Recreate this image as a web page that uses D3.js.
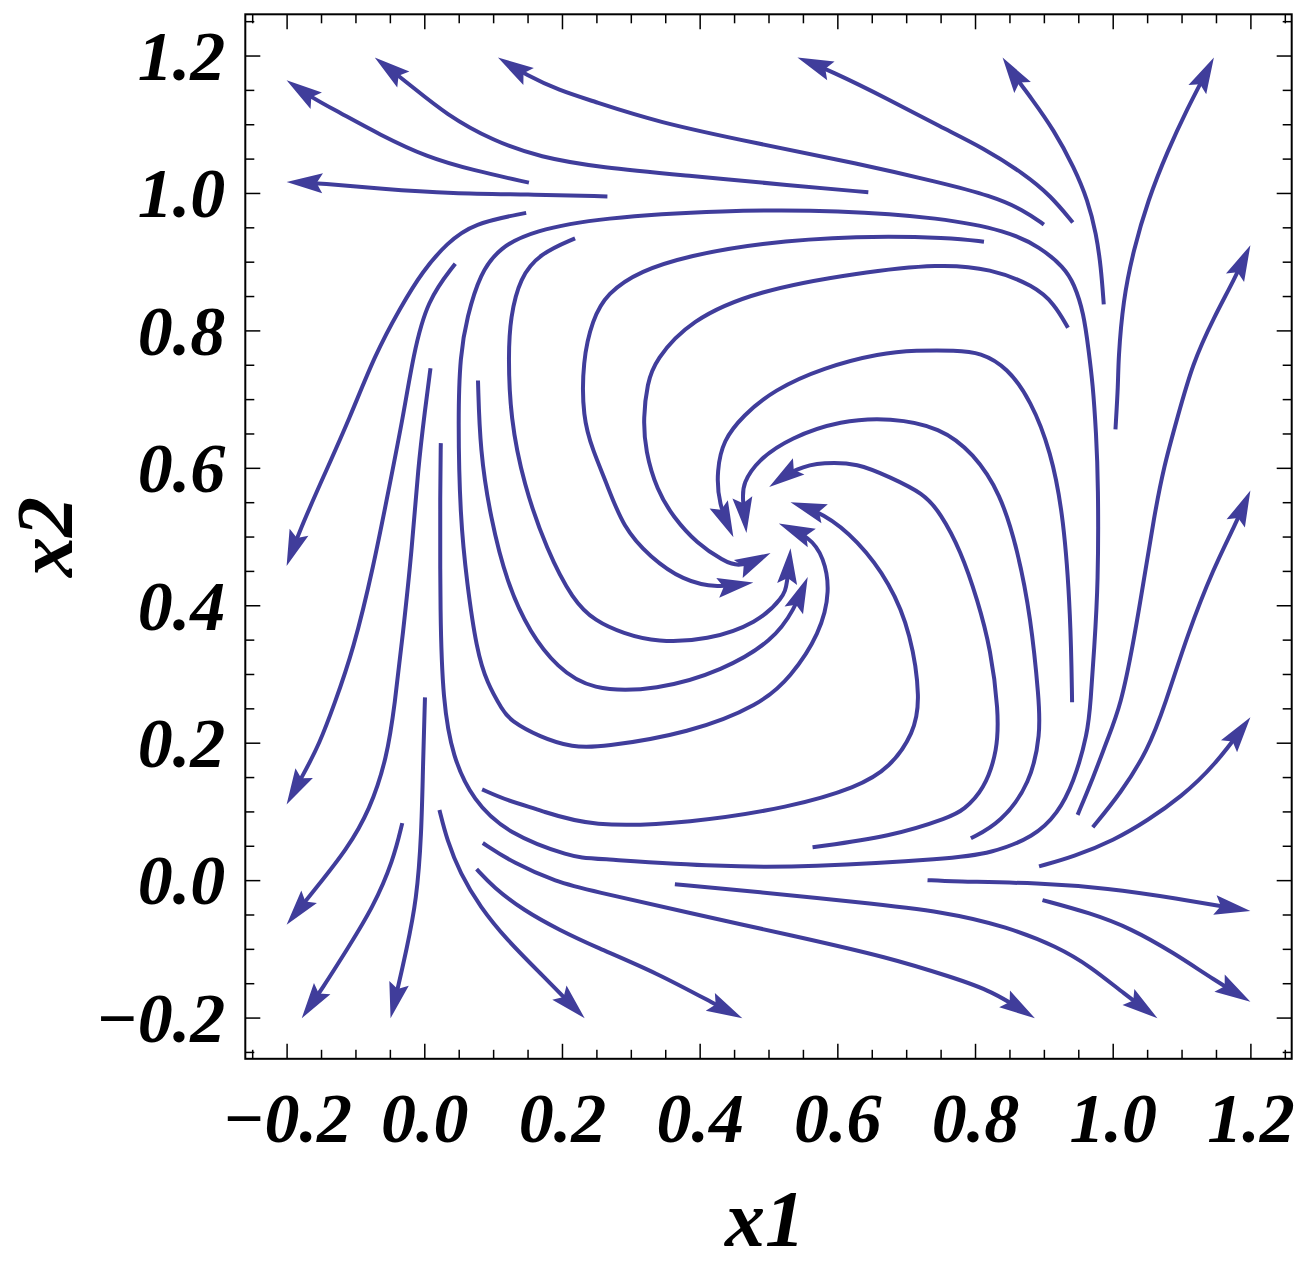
<!DOCTYPE html>
<html>
<head>
<meta charset="utf-8">
<script src="https://cdn.jsdelivr.net/npm/d3@7"></script>
<style>
body { margin: 0; background: #fff; }
</style>
</head>
<body>
<svg id="chart" width="1307" height="1266"></svg>
<script>
// stream lines, [x1, x2] from start to arrow tip
var s01 = [[0.152,1.015],[0.071,1.033],[0.004,1.052],[-0.065,1.085],[-0.123,1.117],[-0.164,1.139],[-0.2,1.164]];
var s02 = [[0.266,0.995],[0.149,0.998],[0.042,0.999],[-0.064,1.006],[-0.147,1.014],[-0.2,1.016]];
var s03 = [[0.645,1.001],[0.532,1.011],[0.386,1.025],[0.256,1.037],[0.168,1.052],[0.1,1.076],[0.033,1.113],[-0.025,1.161],[-0.072,1.197]];
var s04 = [[0.9,0.954],[0.871,0.975],[0.823,0.996],[0.75,1.015],[0.629,1.043],[0.484,1.072],[0.338,1.103],[0.241,1.135],[0.197,1.149],[0.149,1.171],[0.107,1.197]];
var s05 = [[0.942,0.957],[0.91,0.996],[0.871,1.028],[0.813,1.065],[0.75,1.096],[0.677,1.135],[0.59,1.178],[0.542,1.197]];
var s06 = [[0.987,0.838],[0.983,0.892],[0.976,0.941],[0.964,0.989],[0.944,1.037],[0.915,1.091],[0.881,1.139],[0.862,1.164],[0.84,1.197]];
var s07 = [[1.004,0.656],[1.008,0.723],[1.008,0.756],[1.015,0.844],[1.03,0.916],[1.051,0.989],[1.08,1.062],[1.109,1.124],[1.132,1.168],[1.147,1.197]];
var s08 = [[0.949,0.095],[0.972,0.15],[0.992,0.204],[1.012,0.255],[1.03,0.345],[1.046,0.441],[1.06,0.528],[1.074,0.601],[1.094,0.673],[1.116,0.752],[1.147,0.819],[1.176,0.873],[1.2,0.924]];
var s09 = [[0.971,0.077],[1.012,0.127],[1.051,0.189],[1.076,0.255],[1.109,0.359],[1.147,0.455],[1.176,0.513],[1.2,0.567]];
var s10 = [[0.893,0.02],[0.943,0.034],[1.002,0.058],[1.051,0.087],[1.099,0.121],[1.147,0.165],[1.2,0.237]];
var s11 = [[0.731,0.0],[0.765,-0.002],[0.895,-0.004],[0.993,-0.012],[1.089,-0.026],[1.2,-0.045]];
var s12 = [[0.898,-0.029],[0.968,-0.048],[1.026,-0.07],[1.089,-0.106],[1.147,-0.145],[1.2,-0.177]];
var s13 = [[0.364,-0.006],[0.484,-0.017],[0.629,-0.032],[0.757,-0.046],[0.847,-0.068],[0.92,-0.097],[0.968,-0.126],[1.016,-0.165],[1.065,-0.201]];
var s14 = [[0.085,0.054],[0.129,0.025],[0.193,-0.003],[0.241,-0.015],[0.386,-0.048],[0.532,-0.08],[0.677,-0.113],[0.765,-0.141],[0.823,-0.16],[0.887,-0.201]];
var s15 = [[0.076,0.016],[0.1,-0.01],[0.144,-0.044],[0.197,-0.073],[0.248,-0.097],[0.338,-0.135],[0.425,-0.182],[0.462,-0.201]];
var s16 = [[0.022,0.102],[0.033,0.058],[0.052,0.01],[0.081,-0.039],[0.12,-0.087],[0.168,-0.135],[0.233,-0.201]];
var s17 = [[0.001,0.266],[-0.002,0.164],[-0.004,0.068],[-0.011,-0.029],[-0.026,-0.102],[-0.04,-0.164],[-0.049,-0.201]];
var s18 = [[-0.032,0.083],[-0.045,0.029],[-0.074,-0.039],[-0.113,-0.102],[-0.147,-0.156],[-0.178,-0.201]];
var s19 = [[0.009,0.745],[0.001,0.684],[-0.009,0.601],[-0.018,0.48],[-0.031,0.359],[-0.043,0.255],[-0.054,0.179],[-0.079,0.102],[-0.113,0.044],[-0.156,-0.01],[-0.2,-0.065]];
var s20 = [[0.045,0.897],[0.004,0.844],[-0.016,0.764],[-0.031,0.673],[-0.05,0.577],[-0.074,0.455],[-0.103,0.335],[-0.131,0.255],[-0.152,0.199],[-0.176,0.153],[-0.2,0.11]];
var s21 = [[0.148,0.971],[0.071,0.956],[0.033,0.927],[-0.002,0.887],[-0.035,0.833],[-0.072,0.764],[-0.108,0.673],[-0.147,0.586],[-0.181,0.509],[-0.2,0.457]];
var s22 = [[0.219,0.934],[0.168,0.912],[0.139,0.877],[0.125,0.819],[0.122,0.764],[0.125,0.673],[0.144,0.577],[0.178,0.48],[0.216,0.407],[0.248,0.377],[0.289,0.359],[0.338,0.346],[0.411,0.349],[0.484,0.374],[0.522,0.412],[0.527,0.43],[0.532,0.483]];

// the ones that wind into the spiral point
var spiralA = [[0.813,0.929],[0.765,0.935],[0.629,0.938],[0.484,0.927],[0.386,0.909],[0.314,0.887],[0.265,0.854],[0.244,0.815],[0.23,0.756],[0.23,0.673],[0.245,0.625],[0.265,0.577],[0.289,0.513],[0.328,0.47],[0.376,0.436],[0.425,0.425],[0.478,0.433]];
var spiralB = [[0.935,0.804],[0.915,0.839],[0.886,0.865],[0.823,0.89],[0.75,0.897],[0.629,0.884],[0.484,0.858],[0.386,0.815],[0.335,0.756],[0.324,0.723],[0.318,0.673],[0.321,0.625],[0.338,0.567],[0.362,0.528],[0.396,0.49],[0.434,0.465],[0.459,0.454],[0.503,0.476]];
var spiralC = [[0.941,0.259],[0.939,0.383],[0.929,0.528],[0.91,0.625],[0.881,0.698],[0.847,0.746],[0.808,0.768],[0.772,0.771],[0.714,0.771],[0.663,0.767],[0.58,0.746],[0.507,0.713],[0.463,0.676],[0.434,0.64],[0.425,0.596],[0.427,0.548],[0.449,0.499]];
var spiralD = [[0.794,0.061],[0.837,0.083],[0.881,0.141],[0.895,0.214],[0.893,0.262],[0.881,0.383],[0.862,0.48],[0.837,0.563],[0.798,0.621],[0.75,0.659],[0.677,0.673],[0.605,0.669],[0.532,0.644],[0.484,0.611],[0.463,0.577],[0.462,0.557],[0.468,0.505]];
var spiralE = [[0.564,0.048],[0.677,0.063],[0.765,0.092],[0.783,0.102],[0.813,0.131],[0.833,0.189],[0.834,0.247],[0.823,0.335],[0.804,0.407],[0.779,0.48],[0.75,0.534],[0.725,0.563],[0.677,0.586],[0.629,0.607],[0.58,0.608],[0.542,0.601],[0.501,0.572]];
var spiralF = [[0.084,0.132],[0.12,0.116],[0.168,0.102],[0.241,0.077],[0.386,0.083],[0.532,0.106],[0.629,0.135],[0.677,0.164],[0.711,0.214],[0.721,0.262],[0.707,0.359],[0.677,0.432],[0.629,0.495],[0.58,0.534],[0.532,0.55]];
var spiralG = [[0.024,0.636],[0.023,0.577],[0.023,0.382],[0.027,0.262],[0.041,0.179],[0.071,0.116],[0.12,0.068],[0.216,0.033],[0.241,0.032],[0.434,0.019],[0.556,0.019],[0.765,0.031],[0.823,0.039],[0.886,0.063],[0.92,0.097],[0.943,0.141],[0.964,0.214],[0.968,0.262],[0.973,0.335],[0.979,0.432],[0.979,0.577],[0.976,0.65],[0.971,0.723],[0.965,0.771],[0.958,0.825],[0.944,0.868],[0.929,0.892],[0.895,0.921],[0.847,0.945],[0.75,0.964],[0.605,0.975],[0.434,0.975],[0.256,0.964],[0.158,0.945],[0.11,0.921],[0.081,0.883],[0.062,0.819],[0.052,0.764],[0.049,0.673],[0.052,0.528],[0.062,0.432],[0.076,0.335],[0.091,0.287],[0.114,0.247],[0.124,0.233],[0.168,0.208],[0.216,0.193],[0.256,0.193],[0.386,0.214],[0.488,0.255],[0.532,0.295],[0.575,0.359],[0.59,0.422],[0.58,0.47],[0.561,0.499],[0.515,0.519]];
var spiralH = [[0.078,0.727],[0.081,0.625],[0.096,0.528],[0.12,0.432],[0.154,0.359],[0.193,0.31],[0.241,0.276],[0.338,0.276],[0.434,0.305],[0.507,0.349],[0.537,0.393],[0.557,0.441]];

var streamlines = [s01,s02,s03,s04,s05,s06,s07,s08,s09,s10,s11,s12,s13,s14,s15,s16,s17,s18,s19,s20,s21,s22,
	spiralA,spiralB,spiralC,spiralD,spiralE,spiralF,spiralG,spiralH];

var majorTicks = [-0.2, 0.0, 0.2, 0.4, 0.6, 0.8, 1.0, 1.2];
var minorTicks = [-0.25,-0.15,-0.1,-0.05,0.05,0.1,0.15,0.25,0.3,0.35,0.45,0.5,0.55,0.65,0.7,0.75,0.85,0.9,0.95,1.05,1.1,1.15,1.25];
var xTitle = 'x1', yTitle = 'x2';

var COLOR = '#403d9b';
var FONT = '"Liberation Serif", "Times New Roman", serif';

var svg = d3.select('#chart');
// frame edges in px (window.top is taken, so no plain "top")
var frameL = 245.3, frameR = 1291.7, frameT = 14.3, frameB = 1058.8;

var x = d3.scaleLinear().domain([-0.26, 1.26]).range([frameL, frameR]);
var y = d3.scaleLinear().domain([-0.26, 1.26]).range([frameB, frameT]);
var fmt = d3.format('.1f');

/** one axis side, ticks turned inward */
function side(axis, tr, values, size, labels) {
	var g = svg.append('g').attr('transform', tr)
		.call(axis.tickValues(values).tickSize(-size).tickSizeOuter(0)
			.tickPadding(20).tickFormat(labels ? fmt : ''));
	g.select('.domain').remove();
	g.selectAll('.tick line').attr('stroke-width', 1.5);
	g.selectAll('text').style('font-family', FONT).style('font-weight', 'bold')
		.style('font-style', 'italic').style('font-size', '70px').attr('fill', '#000');
	return g;
}

var bot = side(d3.axisBottom(x), 'translate(0,'+frameB+')', majorTicks, 15, true);
bot.selectAll('text').attr('y', 83).attr('dy', null);
side(d3.axisBottom(x), 'translate(0,'+frameB+')', minorTicks, 9, false);
side(d3.axisTop(x), 'translate(0,'+frameT+')', majorTicks, 15, false);
side(d3.axisTop(x), 'translate(0,'+frameT+')', minorTicks, 9, false);
var lft = side(d3.axisLeft(y), 'translate('+frameL+',0)', majorTicks, 15, true);
lft.selectAll('text').attr('dy', '0.34em');
side(d3.axisLeft(y), 'translate('+frameL+',0)', minorTicks, 9, false);
side(d3.axisRight(y), 'translate('+frameR+',0)', majorTicks, 15, false);
side(d3.axisRight(y), 'translate('+frameR+',0)', minorTicks, 9, false);

svg.append('rect').attr('x', frameL).attr('y', frameT)
	.attr('width', frameR-frameL).attr('height', frameB-frameT)
	.attr('fill', 'none').attr('stroke', '#000').attr('stroke-width', 2);

// axis titles
svg.append('text').attr('x', 765).attr('y', 1246)
	.attr('text-anchor', 'middle').style('font-family', FONT).style('font-weight', 'bold')
	.style('font-style', 'italic').style('font-size', '80px').text(xTitle);
svg.append('text').attr('transform', 'translate(72,537) rotate(-90)')
	.attr('text-anchor', 'middle').style('font-family', FONT).style('font-weight', 'bold')
	.style('font-style', 'italic').style('font-size', '80px').text(yTitle);

// streamlines + arrow heads
// basis curve smooths out the reading noise in the traced points
var line = d3.line()
	.x(function (d) { return x(d[0]); })
	.y(function (d) { return y(d[1]); })
	.curve(d3.curveBasis);

var gl = svg.append('g').attr('class', 'streams');
streamlines.forEach(function (pts) {
	var path = gl.append('path').attr('d', line(pts))
		.attr('fill', 'none').attr('stroke', COLOR).attr('stroke-width', 4)
		.attr('stroke-linecap', 'butt');
	var node = path.node(), len = node.getTotalLength();
	var tip = node.getPointAtLength(len), back = node.getPointAtLength(len - 12);
	var ang = Math.atan2(tip.y - back.y, tip.x - back.x) * 180 / Math.PI;
	path.attr('stroke-dasharray', (len - 14) + ' ' + len);
	gl.append('path').attr('d', 'M0,0L-36,-10L-30,0L-36,10Z')
		.attr('transform', 'translate('+tip.x+','+tip.y+') rotate('+ang+')')
		.attr('fill', COLOR);
});
</script>
</body>
</html>
